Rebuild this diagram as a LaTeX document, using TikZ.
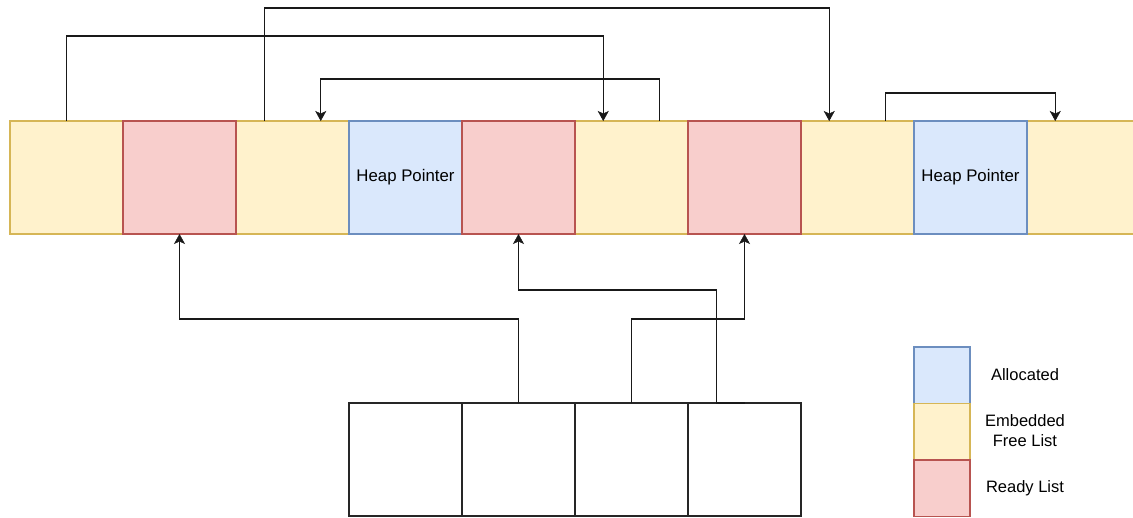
\documentclass[tikz,border=0pt]{standalone}
\usepackage{fontspec}
\setmainfont{Liberation Sans}
\usetikzlibrary{arrows.meta,calc}
\definecolor{yfill}{HTML}{FFF2CC}\definecolor{ydraw}{HTML}{D6B656}
\definecolor{rfill}{HTML}{F8CECC}\definecolor{rdraw}{HTML}{B85450}
\definecolor{bfill}{HTML}{DAE8FC}\definecolor{bdraw}{HTML}{6C8EBF}
\begin{document}
\begin{tikzpicture}[x=1pt,y=-1pt,
  cell/.style={minimum width=113pt,minimum height=113pt,inner sep=0pt,outer sep=0pt,line width=1.1pt,anchor=north west,font=\fontsize{16.8}{19}\selectfont},
  ycell/.style={cell,fill=yfill,draw=ydraw},
  rcell/.style={cell,fill=rfill,draw=rdraw},
  bcell/.style={cell,fill=bfill,draw=bdraw},
  wcell/.style={cell,fill=white,draw=black!85,line width=1.3pt},
  leg/.style={minimum width=56pt,minimum height=56.5pt,inner sep=0pt,outer sep=0pt,line width=1.1pt,anchor=north west},
  legtext/.style={font=\fontsize{16.5}{20}\selectfont,align=center,inner sep=0pt},
  conn/.style={line width=1.3pt,draw=black!90},
  wire/.style={conn,-{Stealth[length=10pt,width=11pt,inset=2.5pt,line width=0.5pt]}}
]
\useasboundingbox (0,0) rectangle (1133,517);
\clip (0,0) rectangle (1133,517);
% top row
\node[ycell] (c1) at (10,121) {};
\node[ycell] (c3) at (236,121) {};
\node[ycell] (c6) at (575,121) {};
\node[ycell] (c8) at (801,121) {};
\node[ycell] (c10) at (1027,121) {};
\node[bcell] (c4) at (349,121) {Heap Pointer};
\node[bcell] (c9) at (914,121) {Heap Pointer};
\node[rcell] (c2) at (123,121) {};
\node[rcell] (c5) at (462,121) {};
\node[rcell] (c7) at (688,121) {};
% bottom boxes
\node[wcell] (b1) at (349,403) {};
\node[wcell] (b2) at (462,403) {};
\node[wcell] (b3) at (575,403) {};
\node[wcell] (b4) at (688,403) {};
% legend
\node[leg,fill=bfill,draw=bdraw] (l1) at (914,347) {};
\node[leg,fill=yfill,draw=ydraw] (l2) at (914,403.5) {};
\node[leg,fill=rfill,draw=rdraw] (l3) at (914,460) {};
\node[legtext] (t1) at (1025,375) {Allocated};
\node[legtext] (t2) at (1025,431) {Embedded\\Free List};
\node[legtext] (t3) at (1025,488) {Ready List};
% top arrows
\draw[wire] (c1.north) -- ++(0,-85) -| ($(c6.north west)!0.25!(c6.north east)$);
\draw[wire] ($(c3.north west)!0.25!(c3.north east)$) -- ++(0,-113) -| ($(c8.north west)!0.25!(c8.north east)$);
\draw[wire] ($(c6.north west)!0.75!(c6.north east)$) -- ++(0,-42) -| ($(c3.north west)!0.75!(c3.north east)$);
\draw[wire] ($(c8.north west)!0.75!(c8.north east)$) -- ++(0,-28) -| ($(c10.north west)!0.25!(c10.north east)$);
% bottom arrows
\draw[wire] (b2.north) -- ++(0,-84) -| (c2.south);
\draw[wire] (b3.north) -- ++(0,-84) -| (c7.south);
\draw[wire] (b4.north) -- ($(b4.north west)!0.25!(b4.north east)$) -- ++(0,-113) -| (c5.south);
\end{tikzpicture}
\end{document}
